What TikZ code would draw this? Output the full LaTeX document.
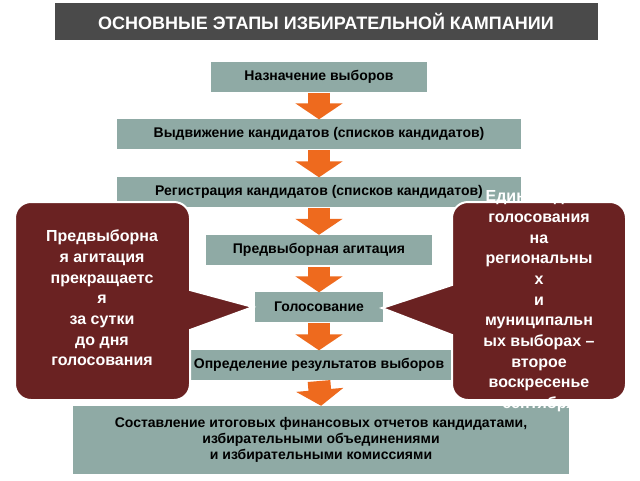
\documentclass[tikz,border=0pt]{standalone}
\usepackage{fontspec}
\setmainfont{Liberation Sans}
\usetikzlibrary{arrows.meta,positioning}
\definecolor{stepgray}{HTML}{8FAAA5}
\definecolor{titlegray}{HTML}{4A4A4A}
\definecolor{wine}{HTML}{6A2222}
\definecolor{flow}{HTML}{EE6A1E}
\tikzset{
  stage/.style={fill=stepgray, draw=white, line width=0.8pt, font=\bfseries\fontsize{10.5}{12}\selectfont, align=center, inner sep=0pt},
  flowarrow/.style={draw=flow, line width=17pt, -{Triangle[width=35pt,length=12pt]}, shorten >=-1pt},
  callout/.style={fill=wine, draw=white, line width=1.5pt},
  callouttext/.style={text=white, font=\bfseries\fontsize{12}{15.5}\selectfont, align=center, inner sep=0pt}
}
\begin{document}
\begin{tikzpicture}[x=0.75pt,y=-0.75pt]
\useasboundingbox[fill=white] (0,0) rectangle (640,480);
% title bar
\node[fill=titlegray, minimum width=543*0.75pt, minimum height=37*0.75pt, text=white, font=\bfseries\fontsize{13.5}{15}\selectfont, inner sep=0pt] (title) at (326,21) {ОСНОВНЫЕ ЭТАПЫ ИЗБИРАТЕЛЬНОЙ КАМПАНИИ};
% stages
\node[stage, minimum width=218*0.75pt, minimum height=31*0.75pt] (s1) at (319,77) {Назначение выборов};
\node[stage, minimum width=405*0.75pt, minimum height=31*0.75pt] (s2) at (319,134) {Выдвижение кандидатов (списков кандидатов)};
\node[stage, minimum width=405*0.75pt, minimum height=31*0.75pt] (s3) at (319,192) {Регистрация кандидатов (списков кандидатов)};
\node[stage, minimum width=228*0.75pt, minimum height=32*0.75pt] (s4) at (319,250) {Предвыборная агитация};
\node[stage, minimum width=129*0.75pt, minimum height=31*0.75pt] (s5) at (319,307) {Голосование};
\node[stage, minimum width=300*0.75pt, minimum height=31*0.75pt] (s6) at (319,365) {Определение результатов выборов};
\node[stage, minimum width=498*0.75pt, minimum height=70*0.75pt] (s7) at (321,440) {Составление итоговых финансовых отчетов кандидатами,\\избирательными объединениями\\и избирательными комиссиями};
% arrows
\foreach \a/\b in {s1/s2,s2/s3,s3/s4,s4/s5,s5/s6,s6/s7}
  \draw[flowarrow] (\a.south) -- (\b.north);
% left callout
\draw[callout] (15,215) [rounded corners=12] -- (15,202) -- (190,202) [sharp corners] -- (190,290) -- (253,307) -- (190,330) [rounded corners=12] -- (190,400) -- (15,400) -- cycle;
\node[callouttext] (lefttext) at (102,298) {Предвыборна\\я агитация\\прекращаетс\\я\\за сутки\\до дня\\голосования};
% right callout
\draw[callout] (626,215) [rounded corners=12] -- (626,202) -- (452,202) [sharp corners] -- (452,285) -- (382,308) -- (452,335) [rounded corners=12] -- (452,400) -- (626,400) -- cycle;
\node[callouttext] (righttext) at (539,301) {Единый день\\голосования\\на\\региональны\\х\\и\\муниципальн\\ых выборах –\\второе\\воскресенье\\сентября};
\end{tikzpicture}
\end{document}
